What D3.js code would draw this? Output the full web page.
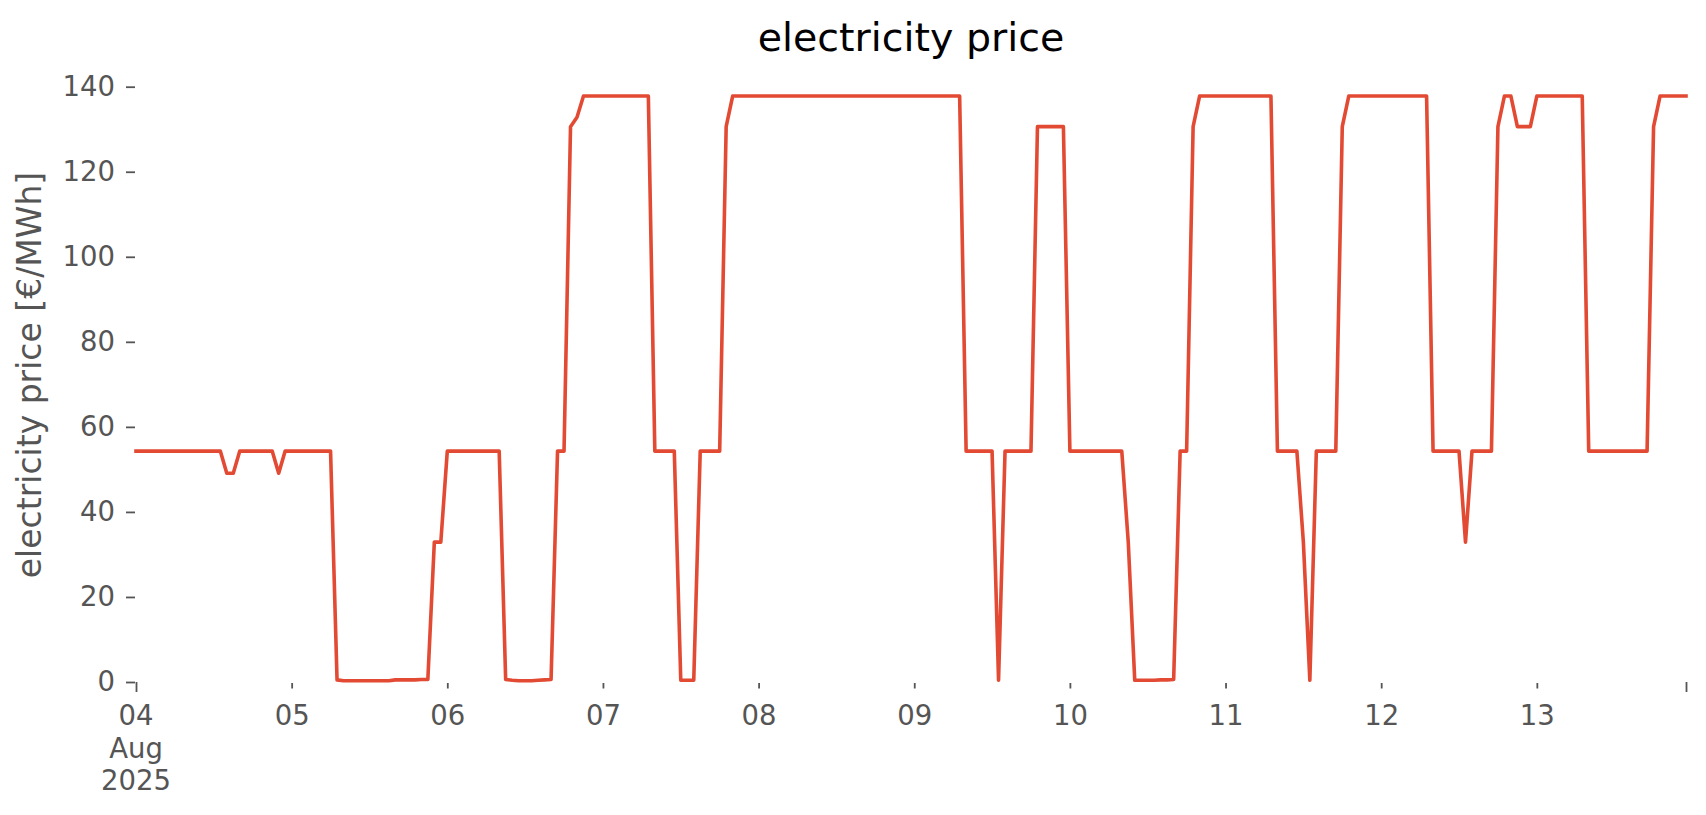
<!DOCTYPE html>
<html>
<head>
<meta charset="utf-8">
<script src="https://cdn.jsdelivr.net/npm/d3@7"></script>
<style>
  html, body { margin: 0; padding: 0; background: #ffffff; }
  svg { display: block; font-family: "DejaVu Sans", sans-serif; }
</style>
</head>
<body>
<svg id="chart" width="1706" height="815"></svg>
<script>
// ---------------- data ----------------
const chartTitle = "electricity price";
const yLabel = "electricity price [€/MWh]";
const startTime = "2025-08-04T00:00:00";
const endTime = "2025-08-13T23:00:00";
// hourly electricity price [€/MWh], 04 Aug 2025 00:00 .. 13 Aug 2025 23:00
const priceValues = [
  // 04 Aug
  54.3,54.3,54.3,54.3,54.3,54.3,54.3,54.3,54.3,54.3,54.3,54.3,54.3,54.3,49.1,49.1,
  54.3,54.3,54.3,54.3,54.3,54.3,49.1,54.3,
  // 05 Aug
  54.3,54.3,54.3,54.3,54.3,54.3,54.3,0.5,0.3,0.3,0.3,0.3,0.3,0.3,0.3,0.3,
  0.5,0.5,0.5,0.5,0.6,0.6,32.9,32.9,
  // 06 Aug
  54.3,54.3,54.3,54.3,54.3,54.3,54.3,54.3,54.3,0.6,0.4,0.3,0.3,0.3,0.4,0.5,
  0.6,54.3,54.3,130.6,132.8,137.8,137.8,137.8,
  // 07 Aug
  137.8,137.8,137.8,137.8,137.8,137.8,137.8,137.8,54.3,54.3,54.3,54.3,0.4,0.4,0.4,54.3,
  54.3,54.3,54.3,130.6,137.8,137.8,137.8,137.8,
  // 08 Aug
  137.8,137.8,137.8,137.8,137.8,137.8,137.8,137.8,137.8,137.8,137.8,137.8,137.8,137.8,137.8,137.8,
  137.8,137.8,137.8,137.8,137.8,137.8,137.8,137.8,
  // 09 Aug
  137.8,137.8,137.8,137.8,137.8,137.8,137.8,137.8,54.3,54.3,54.3,54.3,54.3,0.4,54.3,54.3,
  54.3,54.3,54.3,130.6,130.6,130.6,130.6,130.6,
  // 10 Aug
  54.3,54.3,54.3,54.3,54.3,54.3,54.3,54.3,54.3,32.9,0.4,0.4,0.4,0.4,0.5,0.5,
  0.6,54.3,54.3,130.6,137.8,137.8,137.8,137.8,
  // 11 Aug
  137.8,137.8,137.8,137.8,137.8,137.8,137.8,137.8,54.3,54.3,54.3,54.3,32.9,0.4,54.3,54.3,
  54.3,54.3,130.6,137.8,137.8,137.8,137.8,137.8,
  // 12 Aug
  137.8,137.8,137.8,137.8,137.8,137.8,137.8,137.8,54.3,54.3,54.3,54.3,54.3,32.9,54.3,54.3,
  54.3,54.3,130.6,137.8,137.8,130.6,130.6,130.6,
  // 13 Aug
  137.8,137.8,137.8,137.8,137.8,137.8,137.8,137.8,54.3,54.3,54.3,54.3,54.3,54.3,54.3,54.3,
  54.3,54.3,130.6,137.8,137.8,137.8,137.8,137.8
];
const yTickValues = [0, 20, 40, 60, 80, 100, 120, 140];
const dayTickLabels = ["05", "06", "07", "08", "09", "10", "11", "12", "13"];
const firstTickLabel = ["04", "Aug", "2025"];

// ---------------- layout ----------------
const svg = d3.select("#chart");
const plot = { left: 136, right: 1686, top: 67, bottom: 683 };
const ink = "#555555";
const lineColor = "#E24A33";

const t0 = new Date(startTime);
const t1 = new Date(endTime);
const times = d3.timeHour.range(t0, d3.timeHour.offset(t1, 1));
const data = times.map((t, i) => ({ t: t, v: priceValues[i] }));

const x = d3.scaleTime().domain([t0, t1]).range([plot.left, plot.right]);
const y = d3.scaleLinear().domain([0, 140]).range([682, 86.7]);

// title
svg.append("text")
  .attr("x", (plot.left + plot.right) / 2)
  .attr("y", 51)
  .attr("text-anchor", "middle")
  .attr("font-size", 39.5)
  .attr("fill", "#000")
  .text(chartTitle);

// y label
svg.append("text")
  .attr("transform", `translate(41, ${(plot.top + plot.bottom) / 2}) rotate(-90)`)
  .attr("text-anchor", "middle")
  .attr("font-size", 33)
  .attr("fill", ink)
  .text(yLabel);

// y axis
const yAxis = svg.append("g")
  .attr("transform", `translate(${plot.left - 1},0)`)
  .call(d3.axisLeft(y).tickValues(yTickValues).tickSize(9).tickPadding(11));
yAxis.select(".domain").remove();
yAxis.selectAll(".tick line").attr("stroke", ink).attr("stroke-width", 1.8);
yAxis.selectAll(".tick text").attr("fill", ink).attr("font-size", 27.5)
  .attr("font-family", "DejaVu Sans");

// x axis: day ticks (minor-style)
const dayTicks = d3.timeDay.range(d3.timeDay.offset(t0, 1), t1);
const xAxisMinor = svg.append("g")
  .attr("transform", `translate(0,${plot.bottom})`)
  .call(d3.axisBottom(x).tickValues(dayTicks).tickSize(5.5)
    .tickFormat((d, i) => dayTickLabels[i]));
xAxisMinor.select(".domain").remove();
xAxisMinor.selectAll(".tick line").attr("stroke", ink).attr("stroke-width", 1.8);
xAxisMinor.selectAll(".tick text").attr("fill", ink).attr("font-size", 27.5)
  .attr("font-family", "DejaVu Sans").attr("y", 42).attr("dy", null);

// x axis: major ticks at the ends
const xAxisMajor = svg.append("g")
  .attr("transform", `translate(0,${plot.bottom - 1})`)
  .call(d3.axisBottom(x).tickValues([t0, t1]).tickSize(10).tickFormat(""));
xAxisMajor.select(".domain").remove();
xAxisMajor.selectAll(".tick line").attr("stroke", ink).attr("stroke-width", 1.8);

// multi-line label under the first tick
const firstLabel = svg.append("text")
  .attr("text-anchor", "middle")
  .attr("font-size", 27.5)
  .attr("fill", ink);
firstTickLabel.forEach((s, i) => {
  firstLabel.append("tspan")
    .attr("x", x(t0))
    .attr("y", 725 + i * 32.5)
    .text(s);
});

// line
const line = d3.line().x(d => x(d.t)).y(d => y(d.v)).curve(d3.curveLinear);
svg.append("path")
  .datum(data)
  .attr("d", line)
  .attr("fill", "none")
  .attr("stroke", lineColor)
  .attr("stroke-width", 3.6)
  .attr("stroke-linejoin", "round")
  .attr("stroke-linecap", "square");
</script>
</body>
</html>
